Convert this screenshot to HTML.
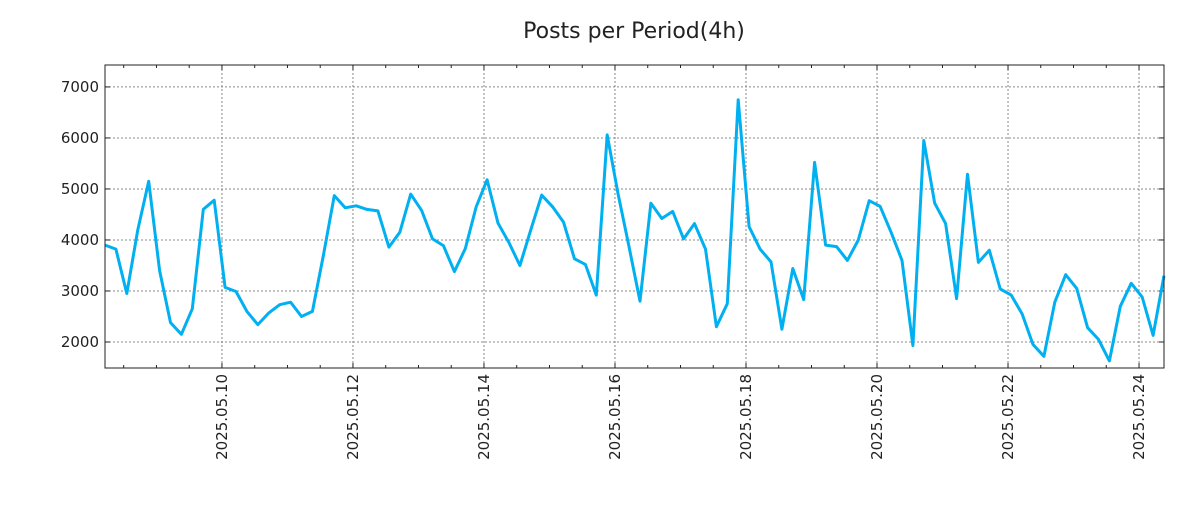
<!DOCTYPE html>
<html><head><meta charset="utf-8"><style>
body{margin:0;background:#fff;width:1200px;height:500px;overflow:hidden}
svg{font-family:"DejaVu Sans","Liberation Sans",sans-serif}
</style></head><body>
<svg id="chart" width="1200" height="500">
<text x="634" y="38" font-size="22" text-anchor="middle" fill="#222">Posts per Period(4h)</text>
<g id="grid"></g>
<g id="axes"></g>
<polyline id="line" fill="none" stroke="#00b0f0" stroke-width="3" stroke-linejoin="round"/>
<rect x="105" y="65" width="1059" height="303" fill="none" stroke="#222" stroke-width="1"/>
</svg>
<script>
const values=[3900,3820,2950,4200,5150,3400,2380,2150,2650,4600,4780,3070,2990,2600,2340,2570,2730,2780,2500,2600,3700,4870,4630,4670,4600,4570,3860,4150,4900,4580,4020,3890,3380,3830,4650,5180,4330,3950,3500,4200,4880,4650,4350,3630,3520,2920,6060,4900,3870,2800,4720,4420,4560,4020,4320,3820,2300,2750,6750,4260,3820,3570,2250,3440,2830,5520,3900,3870,3600,4000,4770,4660,4150,3600,1930,5950,4720,4320,2850,5290,3560,3800,3040,2920,2550,1950,1720,2780,3320,3050,2280,2050,1630,2700,3150,2880,2130,3300];
const yTicks=[2000,3000,4000,5000,6000,7000];
const dateLabels=["2025.05.10","2025.05.12","2025.05.14","2025.05.16","2025.05.18","2025.05.20","2025.05.22","2025.05.24"];
const startHours=-42.85; // first point, hours relative to 2025.05.10 00:00
const periodHours=4;
const X0=105,X1=1164,Y0=65,Y1=368,yMin=1490,yMax=7430;
const tMin=startHours,tMax=startHours+(values.length-1)*periodHours;
const xs=t=>X0+(t-tMin)/(tMax-tMin)*(X1-X0);
const ys=v=>Y1-(v-yMin)/(yMax-yMin)*(Y1-Y0);
const NS="http://www.w3.org/2000/svg";
const grid=document.getElementById('grid'),axes=document.getElementById('axes');
function mk(tag,attrs,parent){const e=document.createElementNS(NS,tag);for(const k in attrs)e.setAttribute(k,attrs[k]);parent.appendChild(e);return e;}
yTicks.forEach(v=>{const y=ys(v);
 const g=mk('line',{x1:X0,x2:X1,y1:y,y2:y,stroke:'#888','stroke-dasharray':'2,2','stroke-width':1},grid);
 
 
 mk('line',{x1:X0,x2:X0+5,y1:y,y2:y,stroke:'#222'},axes);
 mk('line',{x1:X1-5,x2:X1,y1:y,y2:y,stroke:'#222'},axes);
 const t=mk('text',{x:X0-6,y:y+5,'font-size':15,'text-anchor':'end',fill:'#222'},axes);t.textContent=v;
 
 
});
for(let h=-36;h<=tMax;h+=12){const x=xs(h);if(x<X0||x>X1)continue;
 const major=(h%48===0);
 const len=major?5:3;
 mk('line',{x1:x,x2:x,y1:Y1,y2:Y1-len,stroke:'#222'},axes);
 mk('line',{x1:x,x2:x,y1:Y0,y2:Y0+len,stroke:'#222'},axes);
}
dateLabels.forEach((d,i)=>{const x=xs(i*48);
 const g=mk('line',{x1:x,x2:x,y1:Y0,y2:Y1,stroke:'#888','stroke-dasharray':'2,2','stroke-width':1},grid);
 
 
 const t=mk('text',{x:0,y:0,'font-size':15,'text-anchor':'end',fill:'#222',transform:`translate(${x+5},374) rotate(-90)`},axes);t.textContent=d;
 
 
});
document.getElementById('line').setAttribute('points',values.map((v,i)=>xs(tMin+i*periodHours).toFixed(1)+','+ys(v).toFixed(1)).join(' '));
</script>
</body></html>
